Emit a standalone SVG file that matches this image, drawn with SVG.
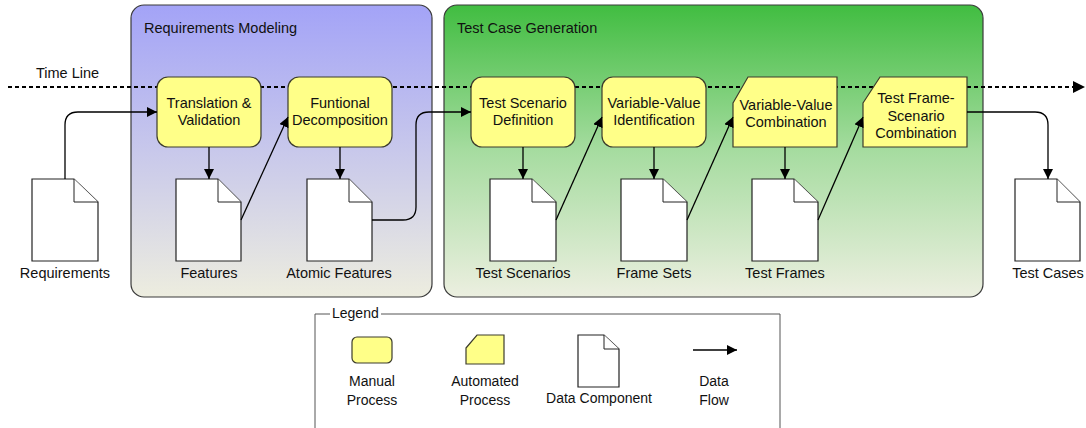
<svg xmlns="http://www.w3.org/2000/svg" width="1086" height="428" viewBox="0 0 1086 428">
<defs>
<linearGradient id="gBlue" x1="0" y1="0" x2="0" y2="1">
<stop offset="0" stop-color="#a3a3f7"/>
<stop offset="1" stop-color="#ededdf"/>
</linearGradient>
<linearGradient id="gGreen" x1="0" y1="0" x2="0" y2="1">
<stop offset="0" stop-color="#41bd41"/>
<stop offset="0.5" stop-color="#a6dca0"/>
<stop offset="1" stop-color="#ecefe0"/>
</linearGradient>
<marker id="ah" viewBox="0 0 10 10" refX="10" refY="5" markerWidth="10" markerHeight="10" markerUnits="userSpaceOnUse" orient="auto">
<path d="M0,0 L10,5 L0,10 z" fill="#000"/>
</marker>
<marker id="ahBig" viewBox="0 0 12 12" refX="12" refY="6" markerWidth="12" markerHeight="12" markerUnits="userSpaceOnUse" orient="auto">
<path d="M0,0 L12,6 L0,12 z" fill="#000"/>
</marker>
</defs>
<style>
text{font-family:"Liberation Sans",Arial,sans-serif;font-size:14.5px;fill:#111;}
.c{text-anchor:middle;}
.lg{font-size:14px;}
.grp{stroke:#3a3a3a;stroke-width:1.2;}
.proc{fill:#ffff88;stroke:#3c3c2c;stroke-width:1.2;}
.doc{fill:#fff;stroke:#222;stroke-width:1.2;}
.fold{fill:#fff;stroke:#222;stroke-width:1;}
.flow{fill:none;stroke:#000;stroke-width:1.3;marker-end:url(#ah);}
</style>

<g id="requirements-modeling">
<rect class="grp" x="131" y="5" width="301" height="292" rx="13" fill="url(#gBlue)"/>
<text x="144" y="33">Requirements Modeling</text>
</g>
<g id="test-case-generation">
<rect class="grp" x="444" y="5" width="539" height="292" rx="13" fill="url(#gGreen)"/>
<text x="457" y="33">Test Case Generation</text>
</g>

<g id="timeline">
<text x="36" y="78">Time Line</text>
<line x1="8" y1="87" x2="1085" y2="87" stroke="#000" stroke-width="2" stroke-dasharray="4,3" marker-end="url(#ahBig)"/>
</g>

<g id="translation-validation">
<rect class="proc" x="157" y="77" width="104" height="70" rx="11"/>
<text class="c" x="209" y="108">Translation &amp;</text>
<text class="c" x="209" y="125">Validation</text>
</g>
<g id="functional-decomposition">
<rect class="proc" x="288" y="77" width="104" height="70" rx="11"/>
<text class="c" x="340" y="108">Funtional</text>
<text class="c" x="340" y="125">Decomposition</text>
</g>
<g id="test-scenario-definition">
<rect class="proc" x="471" y="77" width="104" height="70" rx="11"/>
<text class="c" x="523" y="108">Test Scenario</text>
<text class="c" x="523" y="125">Definition</text>
</g>
<g id="variable-value-identification">
<rect class="proc" x="602" y="77" width="104" height="70" rx="11"/>
<text class="c" x="654" y="108">Variable-Value</text>
<text class="c" x="654" y="125">Identification</text>
</g>
<g id="variable-value-combination">
<path class="proc" d="M733,103 L748,77 H837 V147 H733 Z"/>
<text class="c" x="786" y="110">Variable-Value</text>
<text class="c" x="786" y="127">Combination</text>
</g>
<g id="test-frame-scenario-combination">
<path class="proc" d="M863,103 L880,77 H967 V147 H863 Z"/>
<text class="c" x="916" y="103">Test Frame-</text>
<text class="c" x="916" y="121">Scenario</text>
<text class="c" x="916" y="138">Combination</text>
</g>

<g id="doc-requirements">
<path class="doc" d="M32,179 H74 L98,202 V261 H32 Z"/>
<path class="fold" d="M74,179 V202 H98"/>
<text class="c" x="65" y="278">Requirements</text>
</g>
<g id="doc-features">
<path class="doc" d="M176,179 H218 L241,202 V261 H176 Z"/>
<path class="fold" d="M218,179 V202 H241"/>
<text class="c" x="209" y="278">Features</text>
</g>
<g id="doc-atomic-features">
<path class="doc" d="M307,179 H349 L372,202 V261 H307 Z"/>
<path class="fold" d="M349,179 V202 H372"/>
<text class="c" x="339" y="278">Atomic Features</text>
</g>
<g id="doc-test-scenarios">
<path class="doc" d="M490,179 H532 L556,202 V261 H490 Z"/>
<path class="fold" d="M532,179 V202 H556"/>
<text class="c" x="523" y="278">Test Scenarios</text>
</g>
<g id="doc-frame-sets">
<path class="doc" d="M621,179 H663 L687,202 V261 H621 Z"/>
<path class="fold" d="M663,179 V202 H687"/>
<text class="c" x="654" y="278">Frame Sets</text>
</g>
<g id="doc-test-frames">
<path class="doc" d="M752,179 H794 L818,202 V261 H752 Z"/>
<path class="fold" d="M794,179 V202 H818"/>
<text class="c" x="785" y="278">Test Frames</text>
</g>
<g id="doc-test-cases">
<path class="doc" d="M1015,179 H1057 L1080,202 V261 H1015 Z"/>
<path class="fold" d="M1057,179 V202 H1080"/>
<text class="c" x="1048" y="278">Test Cases</text>
</g>

<g id="connectors">
<path class="flow" d="M65,179 V125 Q65,112 78,112 H157"/>
<path class="flow" d="M209,147 V179"/>
<path class="flow" d="M241,220 L288,117"/>
<path class="flow" d="M340,147 V179"/>
<path class="flow" d="M372,220 H403 Q416,220 416,207 V125 Q416,112 429,112 H471"/>
<path class="flow" d="M523,147 V179"/>
<path class="flow" d="M556,220 L602,117"/>
<path class="flow" d="M654,147 V179"/>
<path class="flow" d="M687,220 L733,117"/>
<path class="flow" d="M785,147 V179"/>
<path class="flow" d="M818,220 L863,117"/>
<path class="flow" d="M967,112 H1035 Q1048,112 1048,125 V179"/>
</g>

<g id="legend">
<path d="M330,314 H315 V428 M381,314 H780 V428" fill="none" stroke="#555" stroke-width="1"/>
<text class="lg" x="332" y="318">Legend</text>
<g id="legend-manual">
<rect class="proc" x="352" y="337" width="40" height="26" rx="5"/>
<text class="c lg" x="372" y="386">Manual</text>
<text class="c lg" x="372" y="405">Process</text>
</g>
<g id="legend-automated">
<path class="proc" d="M466,348 L477,335 H504 V364 H466 Z"/>
<text class="c lg" x="485" y="386">Automated</text>
<text class="c lg" x="485" y="405">Process</text>
</g>
<g id="legend-data">
<path class="doc" d="M578,335 H604 L619,349 V387 H578 Z"/>
<path class="fold" d="M604,335 V349 H619"/>
<text class="c lg" x="599" y="403">Data Component</text>
</g>
<g id="legend-flow">
<path class="flow" d="M693,350 H737"/>
<text class="c lg" x="714" y="386">Data</text>
<text class="c lg" x="714" y="405">Flow</text>
</g>
</g>
</svg>
